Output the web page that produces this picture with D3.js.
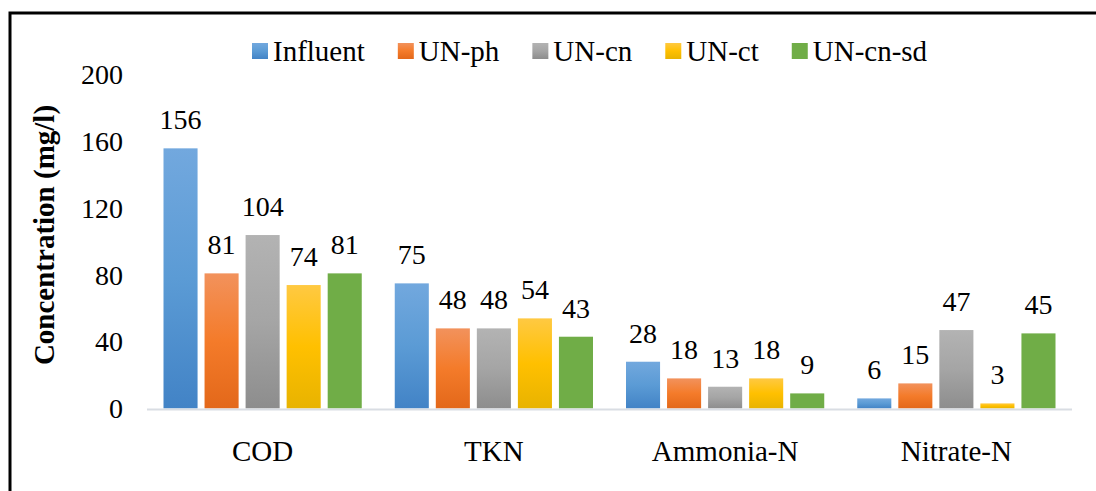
<!DOCTYPE html>
<html>
<head>
<meta charset="utf-8">
<script src="https://cdn.jsdelivr.net/npm/d3@7"></script>
<style>
  body { margin: 0; background: #ffffff; }
</style>
</head>
<body>
<div id="chart"></div>
<script>
// chart data
let categories = ["COD", "TKN", "Ammonia-N", "Nitrate-N"]
let seriesNames = ["Influent", "UN-ph", "UN-cn", "UN-ct", "UN-cn-sd"]
let influent = [156, 75, 28, 6]
let unPh = [81, 48, 18, 15]
let unCn = [104, 48, 13, 47]
let unCt = [74, 54, 18, 3]
let unCnSd = [81, 43, 9, 45]
let yTicks = [0, 40, 80, 120, 160, 200]

let seriesValues = [influent, unPh, unCn, unCt, unCnSd]

// gradient stops for each series (top, middle, bottom)
let seriesColors = [
    ["#72a8de", "#5b9bd5", "#4283c6"],
    ["#f2925c", "#f47b2a", "#e3681a"],
    ["#b3b3b3", "#a5a5a5", "#8d8d8d"],
    ["#ffc942", "#ffc000", "#e8b300"],
    ["#70ad47", "#70ad47", "#70ad47"]
]

let serif = '"Liberation Serif", "Times New Roman", Tinos, "DejaVu Serif", serif'
let width = 1096, height = 491
let plot = {left: 147, right: 1072, top: 75, bottom: 408.4}

let svg = d3.select("#chart")
    .append("svg")
        .attr("width", width)
        .attr("height", height)
        .style("font-family", serif)

// gradients
let defs = svg.append("defs")
seriesColors.forEach(function(c, i) {
    let g = defs.append("linearGradient")
        .attr("id", "grad" + i)
        .attr("x1", 0).attr("y1", 0)
        .attr("x2", 0).attr("y2", 1)
    g.append("stop").attr("offset", "0%").attr("stop-color", c[0])
    g.append("stop").attr("offset", "50%").attr("stop-color", c[1])
    g.append("stop").attr("offset", "100%").attr("stop-color", c[2])
})

// outer frame (runs past right and bottom edge)
svg.append("rect")
    .attr("x", 10)
    .attr("y", 13)
    .attr("width", 1200)
    .attr("height", 600)
    .attr("fill", "none")
    .attr("stroke", "#000")
    .attr("stroke-width", 3)

// scales
let y = d3.scaleLinear()
    .domain([0, 200])
    .range([plot.bottom, plot.top])

let x0 = d3.scaleBand()
    .domain(categories)
    .range([plot.left, plot.right])
    .padding(0)

let x1 = d3.scaleBand()
    .domain(seriesNames)
    .range([16.5, x0.bandwidth() - 16.5])
    .paddingInner(0.17)
    .paddingOuter(0)

// y axis labels (no axis line)
let yAxis = svg.append("g")
    .attr("transform", `translate(${123}, 0)`)
    .call(d3.axisLeft(y).tickValues(yTicks).tickSize(0).tickPadding(0))
yAxis.attr("font-family", null).attr("font-size", null)
yAxis.select(".domain").remove()
yAxis.selectAll("text")
    .style("font-family", serif)
    .style("font-size", "28px")
    .style("fill", "#000")
    .attr("dy", "0.32em")

// bars
let groups = svg.selectAll("g.cat")
    .data(categories)
    .enter()
    .append("g")
        .attr("class", "cat")
        .attr("transform", function(d) { return `translate(${x0(d)}, 0)`; })

groups.selectAll("rect")
    .data(function(d, ci) {
        return seriesNames.map(function(s, si) { return {series: s, si: si, value: seriesValues[si][ci]}; })
    })
    .enter()
    .append("rect")
        .attr("x", function(d) { return x1(d.series); })
        .attr("y", function(d) { return y(d.value); })
        .attr("width", x1.bandwidth())
        .attr("height", function(d) { return y(0) - y(d.value); })
        .attr("fill", function(d) { return "url(#grad" + d.si + ")"; })

// value labels
groups.selectAll("text.val")
    .data(function(d, ci) {
        return seriesNames.map(function(s, si) { return {series: s, si: si, value: seriesValues[si][ci]}; })
    })
    .enter()
    .append("text")
        .attr("class", "val")
        .attr("x", function(d) { return x1(d.series) + x1.bandwidth() / 2; })
        .attr("y", function(d) { return y(d.value) - 19; })
        .attr("text-anchor", "middle")
        .style("font-family", serif)
        .style("font-size", "28px")
        .text(function(d) { return d.value; })

// baseline
svg.append("line")
    .attr("x1", plot.left)
    .attr("x2", plot.right)
    .attr("y1", y(0) + 1)
    .attr("y2", y(0) + 1)
    .attr("stroke", "#d9dde3")
    .attr("stroke-width", 2)

// category labels
let xAxis = svg.append("g")
    .attr("transform", `translate(0, ${461})`)
    .call(d3.axisBottom(x0).tickSize(0).tickPadding(0))
xAxis.attr("font-family", null).attr("font-size", null)
xAxis.select(".domain").remove()
xAxis.selectAll("text")
    .attr("dy", 0)
    .attr("y", 0)
    .style("font-family", serif)
    .style("font-size", "29px")
    .style("fill", "#000")

// y axis title
svg.append("text")
    .attr("transform", `translate(${54}, ${235}) rotate(-90)`)
    .attr("text-anchor", "middle")
    .style("font-family", serif)
    .style("font-size", "29px")
    .style("font-weight", "bold")
    .text("Concentration (mg/l)")

// legend
let legend = svg.append("g").attr("class", "legend")
let lx = 252
seriesNames.forEach(function(s, i) {
    legend.append("rect")
        .attr("x", lx)
        .attr("y", 43)
        .attr("width", 16)
        .attr("height", 16)
        .attr("fill", "url(#grad" + i + ")")
    let t = legend.append("text")
        .attr("x", lx + 21)
        .attr("y", 61)
        .style("font-family", serif)
        .style("font-size", "29px")
        .text(s)
    lx += 21 + t.node().getComputedTextLength() + 33
})
</script>
</body>
</html>
